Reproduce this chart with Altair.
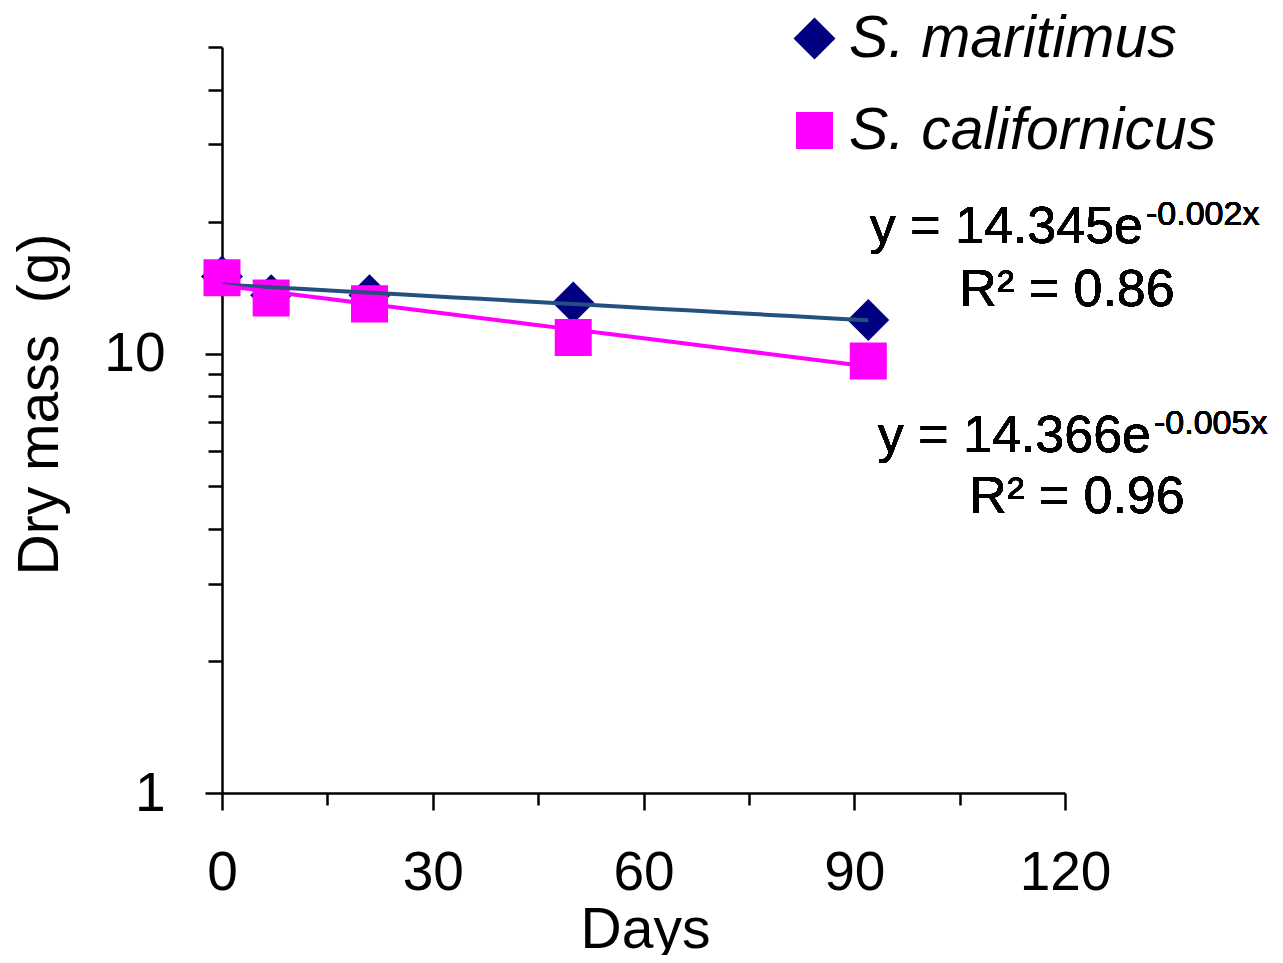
import altair as alt
import pandas as pd

# ---- data ----
days = [0, 7, 21, 50, 92]
maritimus = [15.0, 13.6, 13.6, 13.1, 11.95]
californicus = [14.9, 13.4, 13.0, 10.9, 9.64]
species = ["S. maritimus", "S. californicus"]
marker_colors = ["#000080", "#FF00FF"]
line_colors = ["#24507E", "#FF00FF"]
shapes = ["diamond", "square"]
x_major = [0, 30, 60, 90, 120]
x_minor = [15, 45, 75, 105]
y_major = [1, 10]
y_minor = [2, 3, 4, 5, 6, 7, 8, 9, 20, 30, 40, 50]
eq_main = ["y = 14.345e", "y = 14.366e"]
eq_sup = ["-0.002x", "-0.005x"]
eq_r2 = ["R² = 0.86", "R² = 0.96"]

rows = []
for d, v in zip(days, maritimus):
    rows.append({"days": d, "mass": v, "species": species[0]})
for d, v in zip(days, californicus):
    rows.append({"days": d, "mass": v, "species": species[1]})
df = pd.DataFrame(rows)

FONT = "Liberation Sans"

xscale = alt.Scale(domain=[0, 120], nice=False, zero=False)
yscale = alt.Scale(type="log", domain=[1, 50], nice=False)

legend = alt.Legend(title=None, orient="none", legendX=563, legendY=-38)

points = alt.Chart(df).mark_point(filled=True, opacity=1, strokeWidth=0).encode(
    x=alt.X("days:Q", scale=xscale,
            axis=alt.Axis(values=x_major, tickSize=17, labelPadding=36, title="Days",
                          titleX=423, titleY=154, titleBaseline="alphabetic",
                          titleAlign="center", orient="bottom", labelFlush=False,
                          labelOverlap=False)),
    y=alt.Y("mass:Q", scale=yscale,
            axis=alt.Axis(values=y_major, tickSize=17, labelPadding=40, title="Dry mass\u00a0 (g)",
                          titleAngle=270, titleX=-182, titleY=357, titleBaseline="middle",
                          titleAlign="center", orient="left", format="d", labelFlush=False,
                          labelOverlap=False)),
    color=alt.Color("species:N", scale=alt.Scale(domain=species, range=marker_colors), legend=legend),
    shape=alt.Shape("species:N", scale=alt.Scale(domain=species, range=shapes), legend=legend),
    size=alt.Size("species:N", scale=alt.Scale(domain=species, range=[1760, 1370]), legend=None),
)

minor = alt.Chart(df).mark_point(opacity=0).encode(
    x=alt.X("days:Q", scale=xscale,
            axis=alt.Axis(values=x_minor, tickSize=12, labels=False, domain=False,
                          title=None, orient="bottom")),
    y=alt.Y("mass:Q", scale=yscale,
            axis=alt.Axis(values=y_minor, tickSize=14, labels=False, domain=False,
                          title=None, orient="left")),
)

trend = alt.Chart(df).transform_regression(
    "days", "mass", groupby=["species"], method="exp", extent=[0, 92]
).mark_line(strokeWidth=4).encode(
    x=alt.X("days:Q", scale=xscale, axis=None),
    y=alt.Y("mass:Q", scale=yscale, axis=None),
    stroke=alt.Stroke("species:N", scale=alt.Scale(domain=species, range=line_colors), legend=None),
)

eq_pos = [  # pixel positions relative to plot origin
    {"main": (921, 196), "sup": (924, 178), "r2": (845, 259)},
    {"main": (929, 405), "sup": (932, 387), "r2": (855, 466)},
]
texts = []
for i in range(2):
    p = eq_pos[i]
    texts.append(alt.Chart(df).mark_text(text=eq_main[i], font=FONT, fontSize=52, align="right",
                                         baseline="alphabetic", color="black").encode(
        x=alt.value(p["main"][0]), y=alt.value(p["main"][1])))
    texts.append(alt.Chart(df).mark_text(text=eq_sup[i], font=FONT, fontSize=34, align="left",
                                         baseline="alphabetic", color="black").encode(
        x=alt.value(p["sup"][0]), y=alt.value(p["sup"][1])))
    texts.append(alt.Chart(df).mark_text(text=eq_r2[i], font=FONT, fontSize=52, align="center",
                                         baseline="alphabetic", color="black").encode(
        x=alt.value(p["r2"][0]), y=alt.value(p["r2"][1])))

chart = alt.layer(points, minor, trend, *texts).resolve_axis(
    x="independent", y="independent"
).properties(
    width=843, height=746,
    autosize=alt.AutoSizeParams(type="none"),
    padding={"left": 214, "top": 39, "right": 210, "bottom": 162},
).configure_view(stroke=None).configure_axis(
    grid=False, domainColor="black", domainWidth=2.5, tickColor="black", tickWidth=2.5,
    labelFont=FONT, labelFontSize=55, labelColor="black",
    titleFont=FONT, titleFontSize=57, titleFontWeight="normal", titleColor="black",
).configure_legend(
    labelFont=FONT, labelFontSize=59, labelFontStyle="italic", labelColor="black",
    symbolSize=1300, symbolStrokeWidth=0, labelOffset=5, rowPadding=32,
    labelLimit=0,
)

chart.save("out.html", embed_options={"renderer": "svg", "actions": False})
